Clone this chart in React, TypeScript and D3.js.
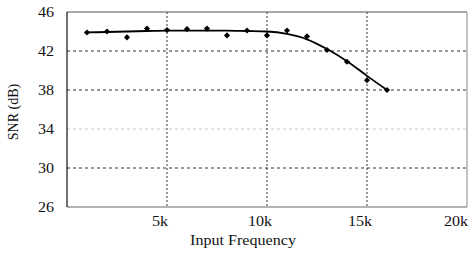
import React from "react";
import * as d3 from "d3";

const freqs = [1000, 2000, 3000, 4000, 5000, 6000, 7000, 8000, 9000, 10000, 11000, 12000, 13000, 14000, 15000, 16000];
const snrMeasured = [43.9, 44.0, 43.4, 44.3, 44.15, 44.25, 44.3, 43.6, 44.1, 43.6, 44.1, 43.5, 42.1, 40.9, 39.0, 38.0];
const fitFreqs = [1000, 2000, 3000, 4000, 5000, 6000, 7000, 8000, 9000, 10000, 11000, 12000, 13000, 14000, 15000, 16000];
const snrFit = [43.9, 43.95, 44.0, 44.05, 44.1, 44.1, 44.1, 44.1, 44.05, 44.0, 43.75, 43.2, 42.2, 40.95, 39.45, 38.0];
const xTicks = [5000, 10000, 15000, 20000];
const xTickLabels = ["5k", "10k", "15k", "20k"];
const yTicks = [26, 30, 34, 38, 42, 46];

const W = 469, H = 256;
const L = 67, R = 467, T = 12, B = 207;

export default function App() {
  const x = d3.scaleLinear().domain([0, 20000]).range([L, R]);
  const y = d3.scaleLinear().domain([26, 46]).range([B, T]);
  const line = d3.line<number>()
    .x((_, i) => x(fitFreqs[i]))
    .y((d) => y(d))
    .curve(d3.curveMonotoneX);
  const diamond = d3.symbol().type(d3.symbolDiamond2).size(24)();
  const tStyle = { fontFamily: "Liberation Serif, DejaVu Serif, Times New Roman, serif", fontSize: "14px" };
  const xLabelPos = (v: number, i: number) => (i === xTicks.length - 1 ? x(v) - 11 : x(v) - 7);
  return (
    <svg width={W} height={H} style={{ position: "absolute", left: 0, top: 0, background: "#fff" }}>
      <rect x={0} y={0} width={W} height={H} fill="#fff" />
      {yTicks.filter((v) => v !== 26 && v !== 46).map((v) => (
        <line key={"gy" + v} x1={L} x2={R} y1={y(v)} y2={y(v)}
          stroke={v === 34 ? "#c8c8c8" : "#333"} strokeWidth={1} strokeDasharray="3,3" />
      ))}
      {xTicks.filter((v) => v !== 20000).map((v) => (
        <line key={"gx" + v} x1={x(v)} x2={x(v)} y1={T} y2={B}
          stroke="#333" strokeWidth={1} strokeDasharray="2,2" />
      ))}
      <line x1={L} x2={R} y1={T} y2={T} stroke="#555" strokeWidth={1} />
      <line x1={L} x2={R} y1={B} y2={B} stroke="#666" strokeWidth={1} />
      <line x1={L} x2={L} y1={T} y2={B} stroke="#111" strokeWidth={1.2} />
      <line x1={R} x2={R} y1={T} y2={B} stroke="#888" strokeWidth={1} />
      <path d={line(snrFit) || ""} fill="none" stroke="#000" strokeWidth={1.8} />
      {freqs.map((f, i) => (
        <path key={"p" + i} d={diamond || ""} transform={`translate(${x(f)},${y(snrMeasured[i])})`} fill="#000" />
      ))}
      {yTicks.map((v) => (
        <text key={"yl" + v} x={54} y={y(v)} dy="0.35em" textAnchor="end" style={tStyle} fill="#111"
          transform={`translate(54,0) scale(1.15,1) translate(-54,0)`}>{v}</text>
      ))}
      {xTicks.map((v, i) => (
        <text key={"xl" + v} x={xLabelPos(v, i)} y={226} textAnchor="middle" style={tStyle} fill="#111"
          transform={`translate(${xLabelPos(v, i)},0) scale(1.15,1) translate(${-xLabelPos(v, i)},0)`}>{xTickLabels[i]}</text>
      ))}
      <text x={243} y={245} textAnchor="middle" style={tStyle} fill="#111"
        transform="translate(243,0) scale(1.15,1) translate(-243,0)">Input Frequency</text>
      <text transform="translate(18,112) scale(1.1,1) rotate(-90)" textAnchor="middle" style={tStyle} fill="#111">SNR (dB)</text>
    </svg>
  );
}
